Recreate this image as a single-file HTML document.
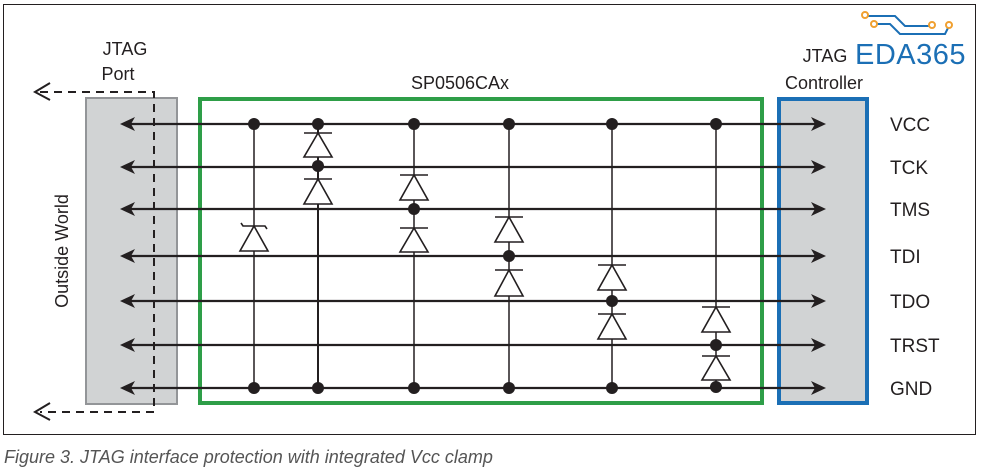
<!DOCTYPE html>
<html><head><meta charset="utf-8"><style>
html,body{margin:0;padding:0;background:#fff;}
svg{display:block;}
text{font-family:"Liberation Sans",Arial,sans-serif;fill:#231f20;}
</style></head><body>
<svg width="981" height="472" viewBox="0 0 981 472" xmlns="http://www.w3.org/2000/svg">
<rect x="3.5" y="4.5" width="972" height="430" fill="#fff" stroke="#231f20" stroke-width="1"/>
<rect x="86" y="98" width="91" height="306" fill="#d1d3d4" stroke="#939598" stroke-width="2"/>
<rect x="779" y="99" width="88" height="304" fill="#d1d3d4" stroke="#1b6fb5" stroke-width="4"/>
<rect x="200" y="99" width="562" height="304" fill="none" stroke="#2e9e48" stroke-width="4"/>
<g stroke="#231f20" stroke-width="2.2" fill="none">
<line x1="128" y1="124" x2="815" y2="124"/>
<line x1="128" y1="167" x2="815" y2="167"/>
<line x1="128" y1="209" x2="815" y2="209"/>
<line x1="128" y1="256" x2="815" y2="256"/>
<line x1="128" y1="301" x2="815" y2="301"/>
<line x1="128" y1="345" x2="815" y2="345"/>
<line x1="128" y1="388" x2="815" y2="388"/>
</g>
<g fill="#231f20">
<path d="M120,124 l15,-7 l-4,7 l4,7z"/><path d="M120,167 l15,-7 l-4,7 l4,7z"/><path d="M120,209 l15,-7 l-4,7 l4,7z"/><path d="M120,256 l15,-7 l-4,7 l4,7z"/><path d="M120,301 l15,-7 l-4,7 l4,7z"/><path d="M120,345 l15,-7 l-4,7 l4,7z"/><path d="M120,388 l15,-7 l-4,7 l4,7z"/>
<path d="M826,124 l-15,-7 l4,7 l-4,7z"/><path d="M826,167 l-15,-7 l4,7 l-4,7z"/><path d="M826,209 l-15,-7 l4,7 l-4,7z"/><path d="M826,256 l-15,-7 l4,7 l-4,7z"/><path d="M826,301 l-15,-7 l4,7 l-4,7z"/><path d="M826,345 l-15,-7 l4,7 l-4,7z"/><path d="M826,388 l-15,-7 l4,7 l-4,7z"/>
</g>
<g stroke="#231f20" stroke-width="2" fill="none">
<path d="M40,92 H154 V412 H40" stroke-dasharray="8,6"/>
<path d="M50,83 L35,92 L50,100"/>
<path d="M50,403 L35,412 L50,420"/>
</g>
<g stroke="#231f20" stroke-width="1.5" fill="none">
<line x1="254" y1="124" x2="254" y2="388"/>
<line x1="318" y1="124" x2="318" y2="388" stroke-width="2"/>
<line x1="414" y1="124" x2="414" y2="388"/>
<line x1="509" y1="124" x2="509" y2="388"/>
<line x1="612" y1="124" x2="612" y2="388"/>
<line x1="716" y1="124" x2="716" y2="388"/>
</g>
<g stroke="#231f20" stroke-width="1.6" fill="#fff">
<path d="M254,226 L240,251 L268,251 Z"/><path d="M241,223 l2,3 h22 l2,3" fill="none"/>
<path d="M318,133 L304,157 L332,157 Z"/><line x1="304" y1="133" x2="332" y2="133"/>
<path d="M318,179 L304,204 L332,204 Z"/><line x1="304" y1="179" x2="332" y2="179"/>
<path d="M414,175 L400,200 L428,200 Z"/><line x1="400" y1="175" x2="428" y2="175"/>
<path d="M414,228 L400,252 L428,252 Z"/><line x1="400" y1="228" x2="428" y2="228"/>
<path d="M509,217 L495,242 L523,242 Z"/><line x1="495" y1="217" x2="523" y2="217"/>
<path d="M509,270 L495,296 L523,296 Z"/><line x1="495" y1="270" x2="523" y2="270"/>
<path d="M612,265 L598,290 L626,290 Z"/><line x1="598" y1="265" x2="626" y2="265"/>
<path d="M612,314 L598,339 L626,339 Z"/><line x1="598" y1="314" x2="626" y2="314"/>
<path d="M716,307 L702,332 L730,332 Z"/><line x1="702" y1="307" x2="730" y2="307"/>
<path d="M716,356 L702,380 L730,380 Z"/><line x1="702" y1="356" x2="730" y2="356"/>
</g>
<g fill="#231f20">
<circle cx="254" cy="124" r="6"/><circle cx="318" cy="124" r="6"/><circle cx="414" cy="124" r="6"/><circle cx="509" cy="124" r="6"/><circle cx="612" cy="124" r="6"/><circle cx="716" cy="124" r="6"/>
<circle cx="318" cy="166" r="6"/><circle cx="414" cy="209" r="6"/><circle cx="509" cy="256" r="6"/><circle cx="612" cy="301" r="6"/><circle cx="716" cy="345" r="6"/>
<circle cx="254" cy="388" r="6"/><circle cx="318" cy="388" r="6"/><circle cx="414" cy="388" r="6"/><circle cx="509" cy="388" r="6"/><circle cx="612" cy="388" r="6"/><circle cx="716" cy="387" r="6"/>
</g>
<text x="125" y="55" font-size="18" text-anchor="middle">JTAG</text>
<text x="118" y="80" font-size="18" text-anchor="middle">Port</text>
<text x="460" y="89" font-size="18" text-anchor="middle">SP0506CAx</text>
<text x="825" y="62" font-size="18" text-anchor="middle">JTAG</text>
<text x="824" y="89" font-size="18" text-anchor="middle">Controller</text>
<text x="855" y="64" font-size="29" letter-spacing="0.5" style="fill:#1b6fb5">EDA365</text>
<text x="68" y="251" font-size="18" text-anchor="middle" transform="rotate(-90 68 251)">Outside World</text>
<g font-size="19">
<text x="890" y="131">VCC</text><text x="890" y="174">TCK</text><text x="890" y="216">TMS</text><text x="890" y="263">TDI</text><text x="890" y="308">TDO</text><text x="890" y="352">TRST</text><text x="890" y="395">GND</text>
</g>
<g fill="none" stroke-width="2">
<path d="M866,16 H895 L905,26 H934" stroke="#1b6fb5"/>
<path d="M874,24 H890 L900,34 H945 L948,28" stroke="#1b6fb5"/>
<circle cx="865" cy="15" r="3" stroke="#f0a030" fill="#fff"/>
<circle cx="874" cy="24" r="3" stroke="#f0a030" fill="#fff"/>
<circle cx="932" cy="25" r="3" stroke="#f0a030" fill="#fff"/>
<circle cx="949" cy="25" r="3" stroke="#f0a030" fill="#fff"/>
</g>
<text x="4" y="463" font-size="18" font-style="italic" style="fill:#555">Figure 3. JTAG interface protection with integrated Vcc clamp</text>
</svg>
</body></html>
